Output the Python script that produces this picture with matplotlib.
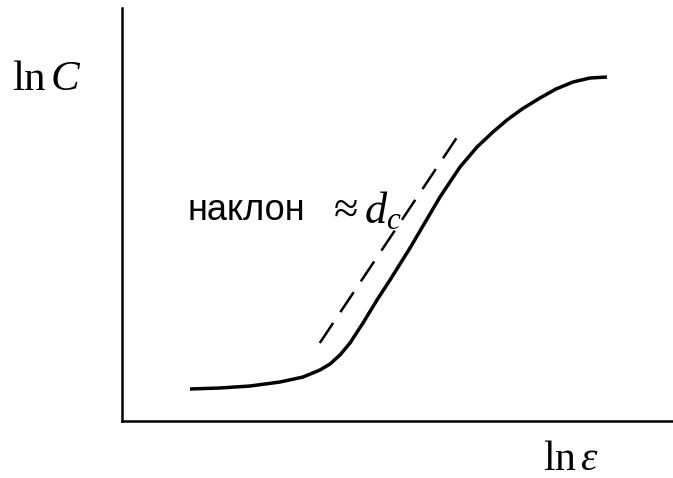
import matplotlib
matplotlib.use("Agg")
import matplotlib.pyplot as plt

plt.rcParams['mathtext.fontset'] = 'custom'
plt.rcParams['mathtext.rm'] = 'Liberation Serif'
plt.rcParams['mathtext.it'] = 'Liberation Serif:italic'

# correlation integral vs. scale, schematic
ln_eps = [1.234, 1.779, 2.323, 2.868, 3.285, 3.593, 3.775, 3.956, 4.138,
          4.374, 4.628, 4.864, 5.227, 5.408, 5.771, 6.134, 6.443, 6.733,
          6.987, 7.260, 7.586, 7.877, 8.185, 8.494, 8.802]
ln_c = [0.775, 0.799, 0.847, 0.944, 1.065, 1.235, 1.380, 1.598, 1.889,
        2.373, 2.930, 3.414, 4.189, 4.600, 5.424, 6.150, 6.634, 6.998,
        7.288, 7.554, 7.821, 8.039, 8.208, 8.305, 8.329]

# slope line
slope_x = [3.59, 6.17]
slope_y = [1.89, 7.05]

fig = plt.figure(figsize=(6.73, 4.78), dpi=100)
ax = fig.add_axes([122 / 673, 57 / 478, 1 - 122 / 673, 413 / 478])
ax.set_xlim(0, 10)
ax.set_ylim(0, 10)

ax.plot(ln_eps, ln_c, color='black', lw=2.5, solid_capstyle='butt',
        solid_joinstyle='round')
ax.plot(slope_x, slope_y, color='black', lw=1.8, dashes=(9.6, 5.2))

ax.text(1.18, 4.87, 'наклон', fontsize=26, family='Liberation Sans',
        va='baseline', ha='left')
ax.text(3.72, 4.80, r'$\approx d_c$', fontsize=32, va='baseline', ha='left')

for s in ['top', 'right']:
    ax.spines[s].set_visible(False)
for s in ['left', 'bottom']:
    ax.spines[s].set_linewidth(1.8)
ax.set_xticks([])
ax.set_yticks([])

fig.text(12 / 673, 1 - 90 / 478, r'$\mathrm{ln}\,C$', fontsize=31,
         va='baseline', ha='left')
fig.text(543 / 673, 1 - 470 / 478, r'$\mathrm{ln}\,\varepsilon$', fontsize=30,
         va='baseline', ha='left')

fig.savefig('out.png', dpi=100)
